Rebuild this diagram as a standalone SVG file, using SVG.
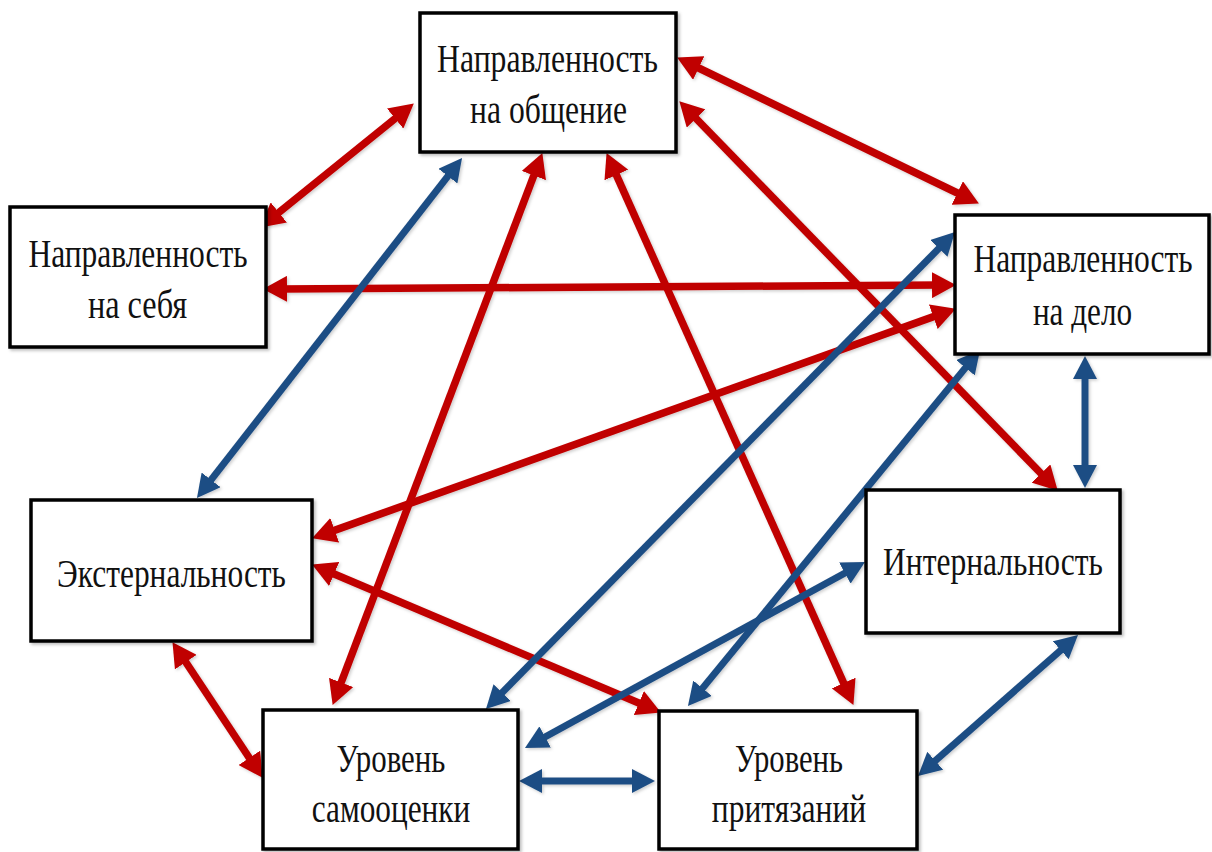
<svg xmlns="http://www.w3.org/2000/svg" width="1212" height="852" viewBox="0 0 1212 852">
<style>
.box{fill:#fff;stroke:#000;stroke-width:3.5;filter:url(#sh)}
.lbl{font-family:"Liberation Serif","Times New Roman",serif;font-size:40px;fill:#111;text-anchor:middle}
.red{stroke:#C00000;stroke-width:7.5;fill:none;marker-start:url(#ar);marker-end:url(#ar)}
.blue{stroke:#1F4E84;stroke-width:7;fill:none;marker-start:url(#ab);marker-end:url(#ab)}
</style>
<defs>
<filter id="sh" x="-10%" y="-10%" width="130%" height="130%"><feDropShadow dx="2" dy="2" stdDeviation="1.5" flood-color="#000" flood-opacity="0.25"/></filter>
<filter id="sh2" filterUnits="userSpaceOnUse" x="0" y="0" width="1212" height="852"><feDropShadow dx="1.5" dy="1.5" stdDeviation="1.5" flood-color="#000" flood-opacity="0.2"/></filter>
<marker id="ar" markerUnits="userSpaceOnUse" markerWidth="24" markerHeight="26" viewBox="0 0 24 26" refX="7" refY="13" orient="auto-start-reverse"><path d="M0,0 L24,13 L0,26 z" fill="#C00000"/></marker>
<marker id="ab" markerUnits="userSpaceOnUse" markerWidth="23" markerHeight="24" viewBox="0 0 23 24" refX="7" refY="12" orient="auto-start-reverse"><path d="M0,0 L23,12 L0,24 z" fill="#1F4E84"/></marker>
</defs>
<g id="connectors" filter="url(#sh2)">
<line class="red" x1="400.6" y1="114.1" x2="273.4" y2="216.9"/>
<line class="red" x1="280" y1="288.9" x2="939" y2="285.1"/>
<line class="red" x1="536.3" y1="169" x2="338.7" y2="689"/>
<line class="red" x1="613.5" y1="168.6" x2="846.5" y2="689.4"/>
<line class="red" x1="692.4" y1="65" x2="963.6" y2="196"/>
<line class="red" x1="691.2" y1="113.5" x2="1045.9" y2="478.5"/>
<line class="red" x1="939.9" y1="314.4" x2="328.1" y2="532.6"/>
<line class="red" x1="327.7" y1="571.2" x2="645.3" y2="705.8"/>
<line class="red" x1="181.9" y1="656.3" x2="253.2" y2="763.7"/>
<line class="blue" x1="452.2" y1="170.6" x2="206.8" y2="485.4"/>
<line class="blue" x1="943.8" y1="243.4" x2="497.2" y2="697.6"/>
<line class="blue" x1="969.9" y1="362.4" x2="698.1" y2="693.6"/>
<line class="blue" x1="1085" y1="372" x2="1085" y2="472"/>
<line class="blue" x1="851" y1="569.7" x2="539" y2="740.3"/>
<line class="blue" x1="535" y1="781" x2="639" y2="781"/>
<line class="blue" x1="1066" y1="645.6" x2="930" y2="765.4"/>
</g>
<g id="n-obshchenie">
<rect class="box" x="420" y="13" width="256" height="139"/>
<text class="lbl" transform="translate(547.5,72) scale(0.8,1)" textLength="276" lengthAdjust="spacingAndGlyphs">Направленность</text>
<text class="lbl" transform="translate(548.5,123) scale(0.8,1)" textLength="196" lengthAdjust="spacingAndGlyphs">на общение</text>
</g>
<g id="n-sebya">
<rect class="box" x="10" y="207" width="256" height="140"/>
<text class="lbl" transform="translate(138,267) scale(0.8,1)" textLength="274" lengthAdjust="spacingAndGlyphs">Направленность</text>
<text class="lbl" transform="translate(137.5,318) scale(0.8,1)" textLength="124" lengthAdjust="spacingAndGlyphs">на себя</text>
</g>
<g id="n-delo">
<rect class="box" x="955" y="215" width="254" height="139"/>
<text class="lbl" transform="translate(1083,272) scale(0.8,1)" textLength="274" lengthAdjust="spacingAndGlyphs">Направленность</text>
<text class="lbl" transform="translate(1082.5,325) scale(0.8,1)" textLength="124" lengthAdjust="spacingAndGlyphs">на дело</text>
</g>
<g id="n-ext">
<rect class="box" x="31" y="500" width="281" height="141"/>
<text class="lbl" transform="translate(171.5,587) scale(0.8,1)" textLength="286" lengthAdjust="spacingAndGlyphs">Экстернальность</text>
</g>
<g id="n-int">
<rect class="box" x="866" y="490" width="254" height="143"/>
<text class="lbl" transform="translate(993,575) scale(0.8,1)" textLength="275" lengthAdjust="spacingAndGlyphs">Интернальность</text>
</g>
<g id="n-samoocenka">
<rect class="box" x="263" y="710" width="255" height="139"/>
<text class="lbl" transform="translate(391,772) scale(0.8,1)" textLength="136" lengthAdjust="spacingAndGlyphs">Уровень</text>
<text class="lbl" transform="translate(391,822) scale(0.8,1)" textLength="198" lengthAdjust="spacingAndGlyphs">самооценки</text>
</g>
<g id="n-prityazaniya">
<rect class="box" x="659" y="711" width="258" height="138"/>
<text class="lbl" transform="translate(789,772) scale(0.8,1)" textLength="135" lengthAdjust="spacingAndGlyphs">Уровень</text>
<text class="lbl" transform="translate(789,822) scale(0.8,1)" textLength="193" lengthAdjust="spacingAndGlyphs">притязаний</text>
</g>
</svg>
